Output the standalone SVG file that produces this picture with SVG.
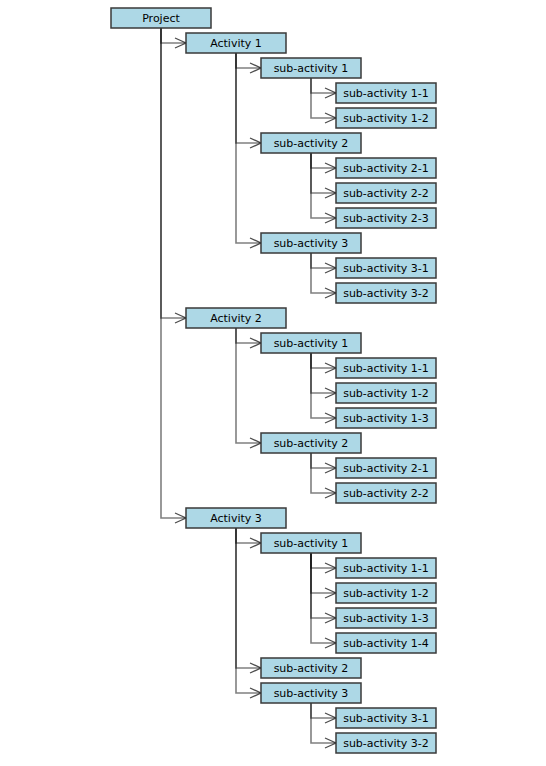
<svg xmlns="http://www.w3.org/2000/svg" width="546" height="766" viewBox="0 0 546 766">
<style>
.n rect{fill:#add8e6;stroke:#3a3a3a;stroke-width:1.5}
.n text{font-family:"DejaVu Sans",Verdana,sans-serif;font-size:11px;fill:#000;text-anchor:middle}
.e path{fill:none;stroke:#000;stroke-opacity:0.5;stroke-width:1.6;marker-end:url(#a)}
</style>
<defs>
<marker id="a" markerUnits="userSpaceOnUse" markerWidth="12" markerHeight="12" refX="11" refY="6" orient="auto" overflow="visible">
<path d="M0,1 L11,6 L0,11" fill="none" stroke="#000" stroke-opacity="0.7" stroke-width="1.3"/>
</marker>
</defs>
<rect width="546" height="766" fill="#fff"/>
<g id="connectors" class="e">
<path d="M161 28V43H186"/>
<path d="M161 28V318H186"/>
<path d="M161 28V518H186"/>
<path d="M236 53V68H261"/>
<path d="M236 53V143H261"/>
<path d="M236 53V243H261"/>
<path d="M311 78V93H336"/>
<path d="M311 78V118H336"/>
<path d="M311 153V168H336"/>
<path d="M311 153V193H336"/>
<path d="M311 153V218H336"/>
<path d="M311 253V268H336"/>
<path d="M311 253V293H336"/>
<path d="M236 328V343H261"/>
<path d="M236 328V443H261"/>
<path d="M311 353V368H336"/>
<path d="M311 353V393H336"/>
<path d="M311 353V418H336"/>
<path d="M311 453V468H336"/>
<path d="M311 453V493H336"/>
<path d="M236 528V543H261"/>
<path d="M236 528V668H261"/>
<path d="M236 528V693H261"/>
<path d="M311 553V568H336"/>
<path d="M311 553V593H336"/>
<path d="M311 553V618H336"/>
<path d="M311 553V643H336"/>
<path d="M311 703V718H336"/>
<path d="M311 703V743H336"/>
</g>
<g id="project" class="n"><rect x="111" y="8" width="100" height="20"/><text x="161" y="22">Project</text></g>
<g id="a1" class="n"><rect x="186" y="33" width="100" height="20"/><text x="236" y="47">Activity 1</text></g>
<g id="a1s1" class="n"><rect x="261" y="58" width="100" height="20"/><text x="311" y="72">sub-activity 1</text></g>
<g id="a1s1-1" class="n"><rect x="336" y="83" width="100" height="20"/><text x="386" y="97">sub-activity 1-1</text></g>
<g id="a1s1-2" class="n"><rect x="336" y="108" width="100" height="20"/><text x="386" y="122">sub-activity 1-2</text></g>
<g id="a1s2" class="n"><rect x="261" y="133" width="100" height="20"/><text x="311" y="147">sub-activity 2</text></g>
<g id="a1s2-1" class="n"><rect x="336" y="158" width="100" height="20"/><text x="386" y="172">sub-activity 2-1</text></g>
<g id="a1s2-2" class="n"><rect x="336" y="183" width="100" height="20"/><text x="386" y="197">sub-activity 2-2</text></g>
<g id="a1s2-3" class="n"><rect x="336" y="208" width="100" height="20"/><text x="386" y="222">sub-activity 2-3</text></g>
<g id="a1s3" class="n"><rect x="261" y="233" width="100" height="20"/><text x="311" y="247">sub-activity 3</text></g>
<g id="a1s3-1" class="n"><rect x="336" y="258" width="100" height="20"/><text x="386" y="272">sub-activity 3-1</text></g>
<g id="a1s3-2" class="n"><rect x="336" y="283" width="100" height="20"/><text x="386" y="297">sub-activity 3-2</text></g>
<g id="a2" class="n"><rect x="186" y="308" width="100" height="20"/><text x="236" y="322">Activity 2</text></g>
<g id="a2s1" class="n"><rect x="261" y="333" width="100" height="20"/><text x="311" y="347">sub-activity 1</text></g>
<g id="a2s1-1" class="n"><rect x="336" y="358" width="100" height="20"/><text x="386" y="372">sub-activity 1-1</text></g>
<g id="a2s1-2" class="n"><rect x="336" y="383" width="100" height="20"/><text x="386" y="397">sub-activity 1-2</text></g>
<g id="a2s1-3" class="n"><rect x="336" y="408" width="100" height="20"/><text x="386" y="422">sub-activity 1-3</text></g>
<g id="a2s2" class="n"><rect x="261" y="433" width="100" height="20"/><text x="311" y="447">sub-activity 2</text></g>
<g id="a2s2-1" class="n"><rect x="336" y="458" width="100" height="20"/><text x="386" y="472">sub-activity 2-1</text></g>
<g id="a2s2-2" class="n"><rect x="336" y="483" width="100" height="20"/><text x="386" y="497">sub-activity 2-2</text></g>
<g id="a3" class="n"><rect x="186" y="508" width="100" height="20"/><text x="236" y="522">Activity 3</text></g>
<g id="a3s1" class="n"><rect x="261" y="533" width="100" height="20"/><text x="311" y="547">sub-activity 1</text></g>
<g id="a3s1-1" class="n"><rect x="336" y="558" width="100" height="20"/><text x="386" y="572">sub-activity 1-1</text></g>
<g id="a3s1-2" class="n"><rect x="336" y="583" width="100" height="20"/><text x="386" y="597">sub-activity 1-2</text></g>
<g id="a3s1-3" class="n"><rect x="336" y="608" width="100" height="20"/><text x="386" y="622">sub-activity 1-3</text></g>
<g id="a3s1-4" class="n"><rect x="336" y="633" width="100" height="20"/><text x="386" y="647">sub-activity 1-4</text></g>
<g id="a3s2" class="n"><rect x="261" y="658" width="100" height="20"/><text x="311" y="672">sub-activity 2</text></g>
<g id="a3s3" class="n"><rect x="261" y="683" width="100" height="20"/><text x="311" y="697">sub-activity 3</text></g>
<g id="a3s3-1" class="n"><rect x="336" y="708" width="100" height="20"/><text x="386" y="722">sub-activity 3-1</text></g>
<g id="a3s3-2" class="n"><rect x="336" y="733" width="100" height="20"/><text x="386" y="747">sub-activity 3-2</text></g>
</svg>
